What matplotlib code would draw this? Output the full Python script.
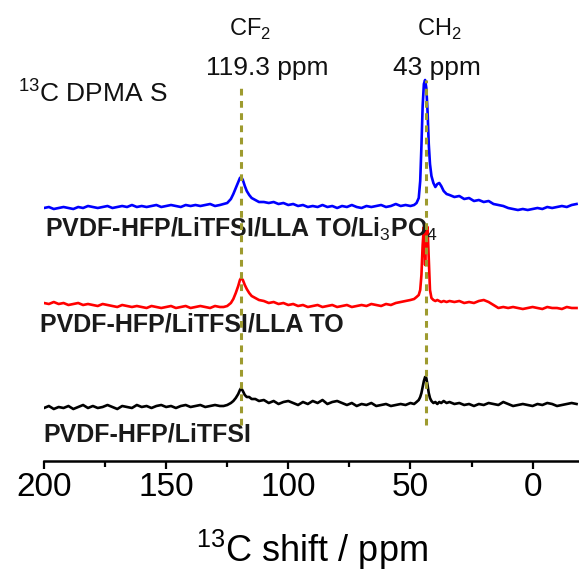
from matplotlib import pyplot as plt
from matplotlib.ticker import MultipleLocator

plt.rcParams['font.family'] = ['Liberation Sans', 'DejaVu Sans']
plt.rcParams['mathtext.fontset'] = 'custom'
plt.rcParams['mathtext.rm'] = 'Liberation Sans'
plt.rcParams['mathtext.bf'] = 'Liberation Sans:bold'

#   chemical shift grid (ppm), shared by the three spectra
shift_ppm = [200, 198, 196, 194, 192, 190, 188, 186, 184, 182,
             180, 178, 176, 174, 172, 170, 168, 166, 164, 162,
             160, 158, 156, 154, 152, 150, 148, 146, 144, 142,
             140, 138, 136, 134, 132, 130, 128,
             126.5, 125, 123.5, 122.5, 121.5, 120.5, 119.8, 119.3, 118.6, 117.8,
             117, 116, 115, 113.5, 112,
             110, 108, 106, 104, 102, 100, 98, 96, 94, 92,
             90, 88, 86, 84, 82, 80, 78, 76, 74, 72,
             70, 68, 66, 64, 62, 60, 58, 56, 54, 52, 50,
             48.5, 47.5, 46.6, 46.0, 45.5, 45.0, 44.5, 44.0, 43.5, 43.0,
             42.5, 42.0, 41.4, 40.6, 39.8, 39.0, 38.2, 37.4, 36.4, 35.2, 34,
             32, 30, 28, 26, 24, 22, 20, 18, 16, 14,
             12, 10, 8, 6, 4, 2, 0, -2, -4, -6,
             -8, -10, -12, -14, -16, -18]

#   PVDF-HFP/LiTFSI/LLATO/Li3PO4 (blue)
int_li3po4 = [-2, -1, -3, -2, -1, -2, -3, -1, -2, 0,
              -1, -2, -1, 0, -2, -1, 0, -1, 1, -1,
              0, -1, 0, 1, -1, 0, 1, 0, -1, 1,
              0, 1, 0, 1, 2, 0, 1,
              2, 3, 7, 12, 18, 24, 28, 29, 26, 20,
              15, 11, 8, 6, 4,
              4, 3, 4, 2, 3, 1, 2, 0, 1, -1,
              0, -1, 1, -1, 0, -2, 0, -1, 1, -1,
              -2, 0, -1, 0, 1, -1, 0, 2, 0, 1, 0,
              1, 3, 8, 25, 60, 100, 122, 126, 118, 95,
              62, 42, 30, 23, 19, 22, 23, 20, 15, 12, 11,
              9, 10, 7, 8, 5, 6, 4, 5, 2, 1,
              0, -2, -3, -4, -3, -4, -3, -2, -3, -1,
              -2, -1, 0, -1, 1, 2]

#   PVDF-HFP/LiTFSI/LLATO (red)
int_llato = [2, 1, 3, 1, 2, 0, 1, 2, 0, 1,
             0, -1, 1, 0, -1, -2, 0, -1, -2, -1,
             -2, -3, -1, -2, -3, -2, -1, -3, -2, -1,
             -3, -2, -1, -2, -3, -1, -2,
             -2, -1, 2, 6, 12, 19, 25, 27, 25, 20,
             16, 12, 9, 7, 5,
             4, 2, 3, 1, 2, 0, 1, -1, 0, -2,
             -1, 0, -2, -1, 0, -2, -1, 0, -2, -1,
             0, -1, 1, 0, -1, 1, 0, 2, 3, 4, 5,
             6, 8, 10, 15, 30, 60, 78, 40, 76, 78,
             45, 15, 7, 5, 4, 5, 4, 3, 4, 3, 4,
             3, 4, 2, 3, 2, 4, 5, 3, 0, -3,
             -2, -3, -2, -3, -4, -3, -2, -3, -4, -2,
             -3, -3, -4, -2, -3, -3]

#   PVDF-HFP/LiTFSI (black)
int_litfsi = [-3, -1, -4, -2, -3, -1, -4, -2, 0, -3,
              -1, -3, -2, 0, -2, -4, -1, -2, -3, 0,
              -2, -1, -3, -1, 0, -2, -1, -3, -1, 0,
              -2, -1, 0, -2, -1, 0, -1,
              -1, 0, 2, 4, 7, 11, 15, 17, 14, 10,
              8, 8, 6, 6, 4,
              5, 2, 4, 1, 3, 4, 2, 0, 3, 1,
              4, 2, 5, 1, 3, 4, 2, 0, 2, -1,
              1, 0, 2, -1, 0, 1, -1, 0, 1, 0, 2,
              1, 3, 5, 8, 12, 18, 24, 28, 27, 20,
              12, 7, 4, 2, 3, 1, 3, 2, 4, 2, 3,
              1, 2, 0, 1, -1, 1, 0, 2, 1, 0,
              3, 1, -1, 0, 1, 0, -1, 1, 0, 2,
              1, -1, 0, 1, 2, 1]

labels = ['PVDF-HFP/LiTFSI/LLA TO/Li$_3$PO$_4$', 'PVDF-HFP/LiTFSI/LLA TO', 'PVDF-HFP/LiTFSI']
colors = ['#0000ff', '#ff0000', '#000000']
offsets = [255, 156, 56]
label_pos = [(199.6, 224), (201.6, 129), (200.4, 20)]

peak_ppm = [119.3, 43.8]
peak_top = [376, 381]
peak_names = ['CF$_2$', 'CH$_2$']
peak_texts = ['119.3 ppm', '43 ppm']

fig = plt.figure(figsize=(5.79, 5.78), dpi=100)
ax = fig.add_axes([44/579, 117/578, 1-44/579, 1-117/578])

for inten, c, off in zip([int_li3po4, int_llato, int_litfsi], colors, offsets):
    ax.plot(shift_ppm, [v+off for v in inten], color=c, lw=1.9, solid_joinstyle='round')

for lab, (x, y) in zip(labels, label_pos):
    ax.text(x, y, lab, fontsize=18, fontweight='bold', color='#1a1a1a',
            ha='left', va='baseline')

#   dashed guide lines at peak positions
for p, top in zip(peak_ppm, peak_top):
    ax.plot([p, p], [36, top], color='#9e9b2f', lw=2.2, ls=(0, (2.2, 1.8)), zorder=3)

ax.text(115.6, 425, peak_names[0], fontsize=17, ha='center', va='baseline', color='#111111')
ax.text(108.6, 386, peak_texts[0], fontsize=19, ha='center', va='baseline', color='#111111')
ax.text(38.1, 425, peak_names[1], fontsize=17, ha='center', va='baseline', color='#111111')
ax.text(39.3, 386, peak_texts[1], fontsize=19, ha='center', va='baseline', color='#111111')
ax.text(210.7, 359, r'$^{13}$C DPMA S', fontsize=19, ha='left', va='baseline', color='#111111')

ax.set_xlim(200, -19)
ax.set_ylim(0, 461)
ax.xaxis.set_major_locator(MultipleLocator(50))
ax.xaxis.set_minor_locator(MultipleLocator(25))
ax.tick_params(axis='x', which='major', direction='out', length=6, width=1.6,
               labelsize=24, pad=2)
ax.tick_params(axis='x', which='minor', direction='out', length=4, width=1.6)
ax.set_yticks([])
for s in ['left', 'right', 'top']:
    ax.spines[s].set_visible(False)
ax.spines['bottom'].set_linewidth(1.8)
ax.set_xlabel(r'$^{13}$C shift / ppm', fontsize=26, labelpad=18)

plt.savefig('out.png', dpi=100)
